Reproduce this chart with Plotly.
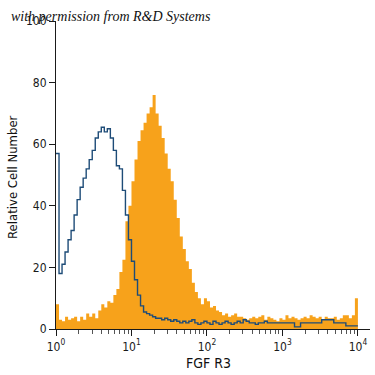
import numpy as np
import plotly.graph_objects as go

# ---- data ----
BIN_WIDTH_DECADES = 0.04  # 100 bins spanning 10^0 .. 10^4

fgfr3_counts = [
    8, 3, 2.5, 4, 3, 3.5, 4, 2.5, 4, 3,
    5, 4, 5, 3.5, 6, 8, 7, 9, 8.5, 11,
    13, 18.5, 22.5, 35, 40, 48, 55, 61, 64.5, 67,
    70, 72, 76, 70, 66, 62, 57, 52, 48, 42,
    36, 30, 26, 22, 19.5, 15, 12, 10, 8, 10,
    9, 7, 7.5, 6, 5.5, 4.5, 5, 4, 4.5, 5,
    4, 4, 3.5, 3, 3.5, 4, 3.5, 4, 4.5, 3,
    4, 3.5, 3, 2.5, 3.5, 3, 4.5, 3.5, 4, 3.5,
    3, 3.5, 4, 3.5, 4.5, 4, 3.5, 4, 3, 4,
    3.5, 3.5, 4, 3, 3.5, 4.5, 4.5, 3.5, 4.5, 10,
]

isotype_counts = [
    57, 18, 21, 25, 29, 32, 37, 42, 46, 49,
    52, 55, 58, 62, 64, 65.5, 64, 65, 62, 58,
    53, 52, 45, 37, 29, 22, 16, 11, 7.5, 5.5,
    5, 4.5, 4, 3.5, 3.5, 3, 3.5, 3, 2.5, 3,
    2.5, 2, 2.5, 2, 2.5, 3, 2, 1.5, 2, 2.5,
    2, 1.5, 2.5, 2, 1.5, 2, 2.5, 2, 1.5, 2,
    2.5, 2, 3, 2.5, 2, 2, 1.5, 2, 2, 2.5,
    2, 2, 2, 2, 2, 2, 2, 2, 2, 0.7,
    0.7, 2, 2, 2, 2, 2, 2, 2, 3, 3,
    3, 3, 2, 2, 2, 2, 1, 1, 1, 1,
]

x_tick_vals = [1, 10, 100, 1000, 10000]
x_tick_text = ["10<sup>0</sup>", "10<sup>1</sup>", "10<sup>2</sup>", "10<sup>3</sup>", "10<sup>4</sup>"]
x_minor_vals = [m * d for d in (1, 10, 100, 1000) for m in range(2, 10)]
y_tick_vals = [0, 20, 40, 60, 80, 100]

# ---- build step coordinates ----
n = len(fgfr3_counts)
edges = 10 ** (np.arange(n + 1) * BIN_WIDTH_DECADES)

def step(vals):
    return list(edges), list(vals) + [vals[-1]]

xo, yo = step(fgfr3_counts)
xb, yb = step(isotype_counts)

NARROW = "DejaVu Sans Condensed, Liberation Sans Narrow, Arial Narrow, sans-serif"

fig = go.Figure()
fig.add_trace(go.Scatter(
    x=xo, y=yo, mode="lines", line=dict(shape="hv", width=0, color="#F7A21B"),
    fill="tozeroy", fillcolor="#F7A21B", hoverinfo="skip", showlegend=False,
))
fig.add_trace(go.Scatter(
    x=xb, y=yb, mode="lines", line=dict(shape="hv", width=1.4, color="#1E4C78"),
    hoverinfo="skip", showlegend=False,
))

L, R, T, B = 56, 5, 21, 46
W = H = 375
pw = W - L - R
ph = H - T - B

fig.update_layout(
    width=W, height=H,
    margin=dict(l=L, r=R, t=T, b=B, pad=0),
    paper_bgcolor="white", plot_bgcolor="white",
    font=dict(family=NARROW, size=12, color="#1a1a1a"),
    xaxis=dict(
        type="log", range=[0, 4.16], showgrid=False, zeroline=False,
        showline=True, linecolor="#1a1a1a", linewidth=1.2,
        tickmode="array", tickvals=x_tick_vals, ticktext=x_tick_text,
        ticks="outside", ticklen=6, tickcolor="#1a1a1a", tickwidth=1,
        tickfont=dict(family=NARROW, size=12, color="#1a1a1a"),
        minor=dict(tickmode="array", tickvals=x_minor_vals, ticks="outside",
                   ticklen=4, tickcolor="#555", tickwidth=1, showgrid=False),
    ),
    yaxis=dict(
        range=[0, 100], showgrid=False, zeroline=False,
        showline=True, linecolor="#1a1a1a", linewidth=1.2,
        tickmode="array", tickvals=y_tick_vals,
        ticks="outside", ticklen=6, tickcolor="#1a1a1a", tickwidth=1,
        tickfont=dict(family=NARROW, size=12, color="#1a1a1a"),
    ),
    annotations=[
        dict(text="Relative Cell Number", xref="paper", yref="paper",
             x=(12 - L) / pw, y=(H - B - 177) / ph, textangle=-90,
             showarrow=False, xanchor="center", yanchor="middle",
             font=dict(family=NARROW, size=13, color="#111")),
        dict(text="FGF R3", xref="paper", yref="paper",
             x=(208 - L) / pw, y=(H - B - 363) / ph,
             showarrow=False, xanchor="center", yanchor="middle",
             font=dict(family=NARROW, size=14, color="#111")),
        dict(text="<i>with permission from R&amp;D Systems</i>", xref="paper", yref="paper",
             x=(9 - L) / pw, y=(H - B - 16) / ph,
             showarrow=False, xanchor="left", yanchor="middle",
             font=dict(family="Liberation Serif, DejaVu Serif, serif", size=14, color="#111")),
    ],
)

fig.write_html("out.html", config={"displayModeBar": False},
               post_script="document.body.style.margin='0';")
